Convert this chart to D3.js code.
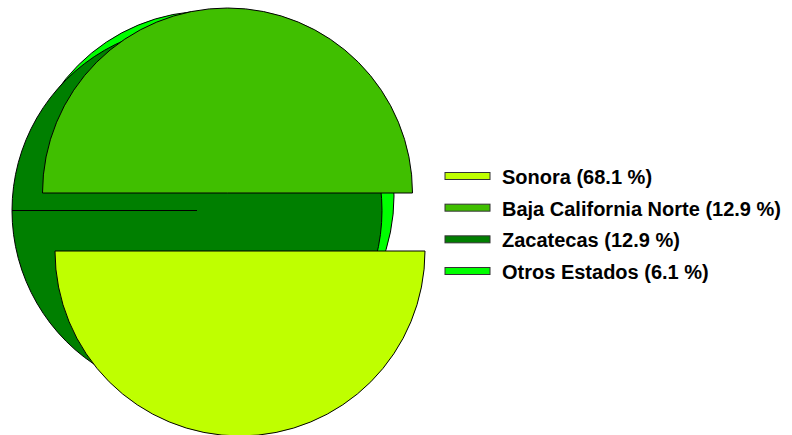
<!doctype html>
<html>
<head>
    <meta charset="utf-8">
    <title>Pie estados</title>
    <style>
      body { margin: 0; background: #fff; }
      .legend text { font-family: 'Liberation Sans', Arial, sans-serif; font-weight: bold; font-size: 20px; }
    </style>
</head>
<body>
<div id="chart-area"></div>
<script src="https://cdn.jsdelivr.net/npm/d3@7"></script>
<script type="text/javascript">
  var estados = ['Sonora', 'Baja California Norte', 'Zacatecas', 'Otros Estados'];
  var porcentajes = [68.1, 12.9, 12.9, 6.1];
  var colores = ['#bfff00', '#40bf00', '#007f00', '#00ff00'];

  var width = 792;
  var height = 435;
  var radius = 185;

  var svg = d3.select('#chart-area')
      .append('svg')
      .attr('width', width)
      .attr('height', height);

  // the source program draws each slice as a shifted half / full disc
  // [startAngle, endAngle, cx, cy] per slice, same order as estados
  var layout = [
    [Math.PI / 2, Math.PI * 3 / 2, 240, 251],
    [-Math.PI / 2, Math.PI / 2, 227.5, 193],
    [-Math.PI / 2, Math.PI * 3 / 2 - 0.0001, 197, 210.5],
    [0, Math.PI * 2, 209, 196]
  ];
  var drawOrder = [3, 2, 1, 0];

  var arc = d3.arc()
      .innerRadius(0)
      .outerRadius(radius);

  var data = estados.map(function(d, i) {
    return {name: d, value: porcentajes[i], color: colores[i],
      startAngle: layout[i][0], endAngle: layout[i][1], cx: layout[i][2], cy: layout[i][3]};
  });

  svg.append('g')
      .selectAll('path')
      .data(drawOrder.map(function(i) { return data[i]; }))
      .enter()
      .append('path')
      .attr('transform', function(d) {
        return 'translate(' + d.cx + ',' + d.cy + ')';
      })
      .attr('d', arc)
      .attr('fill', function(d) { return d.color; })
      .attr('stroke', '#000')
      .attr('stroke-width', 1);

  // Legend
  var y = d3.scalePoint()
      .domain(estados)
      .range([176, 271]);

  var legend = svg.append('g')
      .attr('class', 'legend')
      .selectAll('g')
      .data(data)
      .enter()
      .append('g')
      .attr('transform', function(d) {
        return 'translate(445,' + y(d.name) + ')';
      });

  legend.append('rect')
      .attr('x', 0)
      .attr('y', -3.5)
      .attr('width', 45)
      .attr('height', 7)
      .attr('fill', function(d) { return d.color; })
      .attr('stroke', '#333')
      .attr('stroke-width', 1);

  legend.append('text')
      .attr('x', 57)
      .attr('y', 1)
      .attr('dy', '0.35em')
      .text(function(d) {
        return d.name + ' (' + d.value.toFixed(1) + ' %)';
      });
</script>
</body>
</html>
